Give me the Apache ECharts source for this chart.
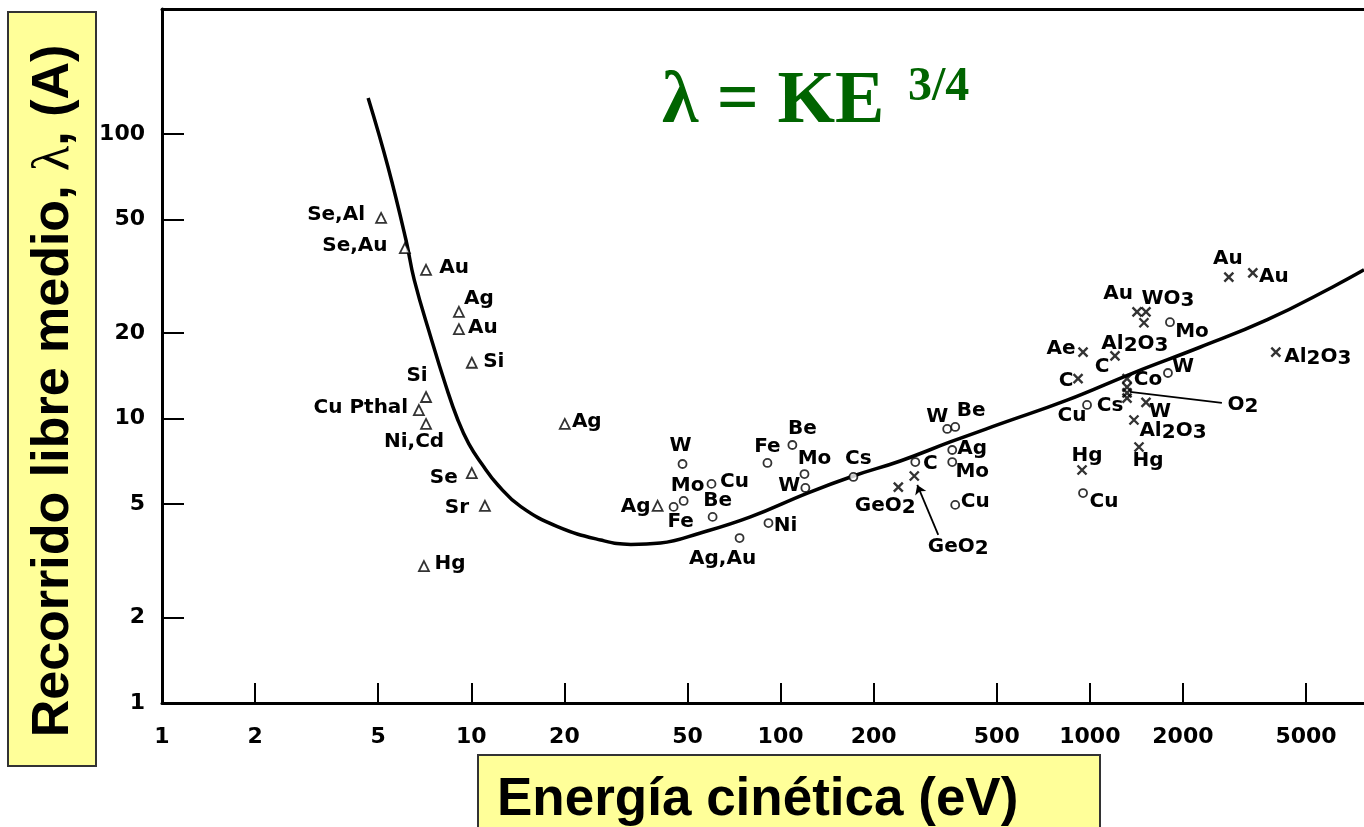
<!DOCTYPE html>
<html>
<head>
<meta charset="utf-8">
<script src="https://cdn.jsdelivr.net/npm/echarts@6/dist/echarts.min.js"></script>
<style>
  html, body { margin: 0; padding: 0; background: #fff; }
  #chart { width: 1364px; height: 827px; }
</style>
</head>
<body>
<div id="chart"></div>
<script>
// ---------------- data ----------------
// Universal curve (kinetic energy eV, mean free path Å)
const curveE = [4.64, 5.38, 6.15, 6.54, 7.41, 8.28, 9.05, 9.82, 10.82, 12.19, 14.46, 19.0, 26.2, 32.8, 40.9, 55.1, 79.9, 122.2, 172, 243.9, 353.7, 512.9, 844, 1379, 2269, 3735, 6100, 7700];
const curveL = [133.9, 76.6, 42.4, 30.7, 19.19, 13.0, 9.88, 8.14, 6.92, 5.84, 4.90, 4.17, 3.74, 3.61, 3.65, 3.96, 4.51, 5.47, 6.28, 7.09, 8.27, 9.57, 11.6, 14.45, 17.8, 22.2, 29.0, 33.3];

// Triangles
const triE = [5.11, 6.10, 7.14, 9.12, 9.12, 10.04, 7.14, 6.77, 7.14, 10.04, 11.07, 7.03, 20.06, 40.05];
const triL = [50.7, 39.7, 33.3, 23.7, 20.6, 15.7, 11.9, 10.7, 9.57, 6.43, 4.93, 3.03, 9.57, 4.93];
const triNames = ['Se,Al', 'Se,Au', 'Au', 'Ag', 'Au', 'Si', 'Si', 'Cu Pthal', 'Ni,Cd', 'Se', 'Sr', 'Hg', 'Ag', 'Ag'];

// Circles
const circE = [48.2, 48.6, 45.1, 59.8, 60.3, 73.7, 90.7, 91.4, 109.2, 119.5, 120.3, 172, 272.7, 345.8, 367.1, 359, 359, 367.1, 1816, 1789, 979.5, 950.7];
const circL = [6.92, 5.13, 4.89, 5.89, 4.51, 3.80, 6.98, 4.29, 8.07, 6.38, 5.70, 6.23, 7.03, 9.19, 9.34, 7.75, 7.03, 4.97, 21.8, 14.45, 11.16, 5.47];
const circNames = ['W', 'Mo', 'Fe', 'Cu', 'Be', 'Ag,Au', 'Fe', 'Ni', 'Be', 'Mo', 'W', 'Cs', 'C', 'W', 'Be', 'Ag', 'Mo', 'Cu', 'Mo', 'W', 'Cu', 'Cu'];

// Crosses
const crossE = [240.3, 270.6, 1421, 1519, 1496, 950.7, 1206, 916, 1319, 1319, 1319, 1319, 1519, 1389, 1442, 943.6, 2815, 3365, 3994];
const crossL = [5.74, 6.28, 23.7, 23.7, 21.7, 17.1, 16.6, 13.8, 13.8, 12.9, 12.3, 11.8, 11.4, 9.88, 7.94, 6.59, 31.4, 32.5, 17.1];
const crossNames = ['GeO2', 'GeO2', 'Au', 'WO3', 'Al2O3', 'Ae', 'C', 'C', 'Co', '', 'O2', 'Cs', 'W', 'Al2O3', 'Hg', 'Hg', 'Au', 'Au', 'Al2O3'];

// Leader lines (data units): O2 line, GeO2 arrow
const leaderO2 = [[1348, 12.4], [2673, 11.34]];
const leaderGeO2 = [[323.5, 3.90], [276.7, 5.84]];

// Tick labels
const xTickValues = [1, 2, 5, 10, 20, 50, 100, 200, 500, 1000, 2000, 5000];
const yTickValues = [1, 2, 5, 10, 20, 50, 100];

// Axis ranges
const X_MIN = 1, X_MAX = 7700;
const Y_MIN = 1, Y_MAX = 275;

// ---------------- styling (label placement, px offsets from marker centre) ----------------
const triLabelOffset = [[-45,-2],[-50,-1],[28,-1],[20,-12],[24,0],[22,0],[-9,-20],[-58,-1],[-12,19],[-28,6],[-28,3],[26,-1],[22,-1],[-22,2]];
const circLabelOffset = [[-2,-17],[4,-14],[7,16],[23,-1],[5,-15],[-17,22],[0,-15],[17,4],[10,-15],[10,-14],[-16,-1],[5,-17],[15,3],[-10,-11],[16,-15],[20,0],[20,11],[20,-2],[22,11],[15,-5],[-15,12],[21,10]];
const crossLabelOffset = [[-13,20],[44,72],[-19,-17],[22,-12],[-9,22],[-22,-2],[-13,12],[-12,3],[21,2],[0,0],[116,13],[-17,9],[14,10],[39,12],[9,15],[5,-13],[-1,-17],[21,5],[42,6]];

const LABEL_FONT = 'DejaVu Sans';

function toRich(name) {
  if (!name) return '';
  const parts = name.match(/\d+|[^\d]+/g) || [];
  return parts.map(p => /^\d+$/.test(p) ? '{s|' + p + '}' : '{n|' + p + '}').join('');
}

const labelRich = {
  n: { fontFamily: LABEL_FONT, fontWeight: 'bold', fontSize: 20, color: '#000', lineHeight: 22, verticalAlign: 'top' },
  s: { fontFamily: LABEL_FONT, fontWeight: 'bold', fontSize: 20, color: '#000', lineHeight: 22, padding: [7, 0, 0, 0], verticalAlign: 'bottom' }
};

function buildPoints(es, ls, names, offsets) {
  return es.map((e, i) => ({
    value: [e, ls[i]],
    name: names[i],
    label: { offset: offsets[i] }
  }));
}

const baseLabel = {
  show: true,
  position: 'inside',
  color: '#000',
  opacity: 1,
  fontFamily: LABEL_FONT,
  fontWeight: 'bold',
  fontSize: 20,
  textBorderWidth: 0,
  formatter: p => toRich(p.name),
  rich: labelRich
};

const tickFont = { color: '#000', fontFamily: LABEL_FONT, fontWeight: 'bold', fontSize: 22 };

const chart = echarts.init(document.getElementById('chart'), null, { renderer: 'canvas' });

const option = {
  animation: false,
  backgroundColor: '#fff',
  grid: { left: 162, right: 0, top: 9, bottom: 124, containLabel: false },
  xAxis: [
    {
      type: 'log', logBase: 10, min: X_MIN, max: X_MAX, position: 'top',
      axisLine: { show: true, onZero: false, lineStyle: { color: '#000', width: 3 } },
      axisTick: { show: false }, axisLabel: { show: false }, splitLine: { show: false }
    },
    {
      type: 'value', min: Math.log10(X_MIN), max: Math.log10(X_MAX), position: 'bottom',
      axisLine: { show: true, onZero: false, lineStyle: { color: '#000', width: 3 } },
      axisTick: { show: true, inside: true, length: 20, lineStyle: { color: '#000', width: 2 }, customValues: xTickValues.map(v => Math.log10(v)) },
      axisLabel: Object.assign({ show: true, margin: 23, customValues: xTickValues.map(v => Math.log10(v)), formatter: v => String(Math.round(Math.pow(10, v))) }, tickFont),
      splitLine: { show: false }
    }
  ],
  yAxis: [
    {
      type: 'log', logBase: 10, min: Y_MIN, max: Y_MAX, position: 'right',
      axisLine: { show: false }, axisTick: { show: false }, axisLabel: { show: false }, splitLine: { show: false }
    },
    {
      type: 'value', min: Math.log10(Y_MIN), max: Math.log10(Y_MAX), position: 'left',
      axisLine: { show: true, onZero: false, lineStyle: { color: '#000', width: 3 } },
      axisTick: { show: true, inside: true, length: 22, lineStyle: { color: '#000', width: 2 }, customValues: yTickValues.map(v => Math.log10(v)) },
      axisLabel: Object.assign({ show: true, margin: 17, customValues: yTickValues.map(v => Math.log10(v)), formatter: v => String(Math.round(Math.pow(10, v))) }, tickFont),
      splitLine: { show: false }
    }
  ],
  series: [
    {
      type: 'line', name: 'curve', xAxisIndex: 0, yAxisIndex: 0,
      data: curveE.map((e, i) => [e, curveL[i]]),
      smooth: 0.45, symbol: 'none', silent: true,
      lineStyle: { color: '#000', width: 3.5 }, z: 2
    },
    {
      type: 'scatter', name: 'triangles', xAxisIndex: 0, yAxisIndex: 0,
      symbol: 'triangle', symbolSize: 10,
      itemStyle: { color: '#fff', borderColor: '#000', borderWidth: 1.8 },
      label: baseLabel,
      data: buildPoints(triE, triL, triNames, triLabelOffset), z: 3
    },
    {
      type: 'scatter', name: 'circles', xAxisIndex: 0, yAxisIndex: 0,
      symbol: 'circle', symbolSize: 8,
      itemStyle: { color: '#fff', borderColor: '#000', borderWidth: 1.8 },
      label: baseLabel,
      data: buildPoints(circE, circL, circNames, circLabelOffset), z: 3
    },
    {
      type: 'scatter', name: 'crosses', xAxisIndex: 0, yAxisIndex: 0,
      symbol: 'path://M0,0L10,10M10,0L0,10', symbolSize: 9,
      itemStyle: { color: 'none', borderColor: '#000', borderWidth: 2.4 },
      label: baseLabel,
      data: buildPoints(crossE, crossL, crossNames, crossLabelOffset), z: 3,
      markLine: {
        silent: true, animation: false,
        lineStyle: { color: '#000', width: 1.8, type: 'solid' },
        label: { show: false },
        data: [
          [{ coord: leaderO2[0], symbol: 'none' }, { coord: leaderO2[1], symbol: 'none' }],
          [{ coord: leaderGeO2[0], symbol: 'none' }, { coord: leaderGeO2[1], symbol: 'arrow', symbolSize: 9 }]
        ]
      }
    }
  ],
  graphic: [
    { type: 'rect', z: 0, shape: { x: 8, y: 12, width: 88, height: 754 }, style: { fill: '#FFFF99', stroke: '#333', lineWidth: 2 } },
    { type: 'rect', z: 0, shape: { x: 478, y: 755, width: 622, height: 80 }, style: { fill: '#FFFF99', stroke: '#333', lineWidth: 2 } },
    {
      type: 'text', z: 10, x: 54, y: 391, rotation: Math.PI / 2,
      style: {
        text: '{t|Recorrido libre medio, }{l|λ}{t|, (A)}',
        align: 'center', verticalAlign: 'middle',
        rich: {
          t: { fontFamily: 'Liberation Sans', fontWeight: 'bold', fontSize: 52, fill: '#000' },
          l: { fontFamily: 'Liberation Serif', fontWeight: 'normal', fontSize: 52, fill: '#000' }
        }
      }
    },
    {
      type: 'text', z: 10, x: 497, y: 800,
      style: { text: 'Energía cinética (eV)', fontFamily: 'Liberation Sans', fontWeight: 'bold', fontSize: 53, fill: '#000', align: 'left', verticalAlign: 'middle' }
    },
    {
      type: 'text', z: 10, x: 662, y: 103,
      style: { text: 'λ = KE', fontFamily: 'Liberation Serif', fontWeight: 'bold', fontSize: 74, fill: '#006400', align: 'left', verticalAlign: 'middle' }
    },
    {
      type: 'text', z: 10, x: 908, y: 88,
      style: { text: '3/4', fontFamily: 'Liberation Serif', fontWeight: 'bold', fontSize: 48, fill: '#006400', align: 'left', verticalAlign: 'middle' }
    }
  ]
};

chart.setOption(option);
</script>
</body>
</html>
